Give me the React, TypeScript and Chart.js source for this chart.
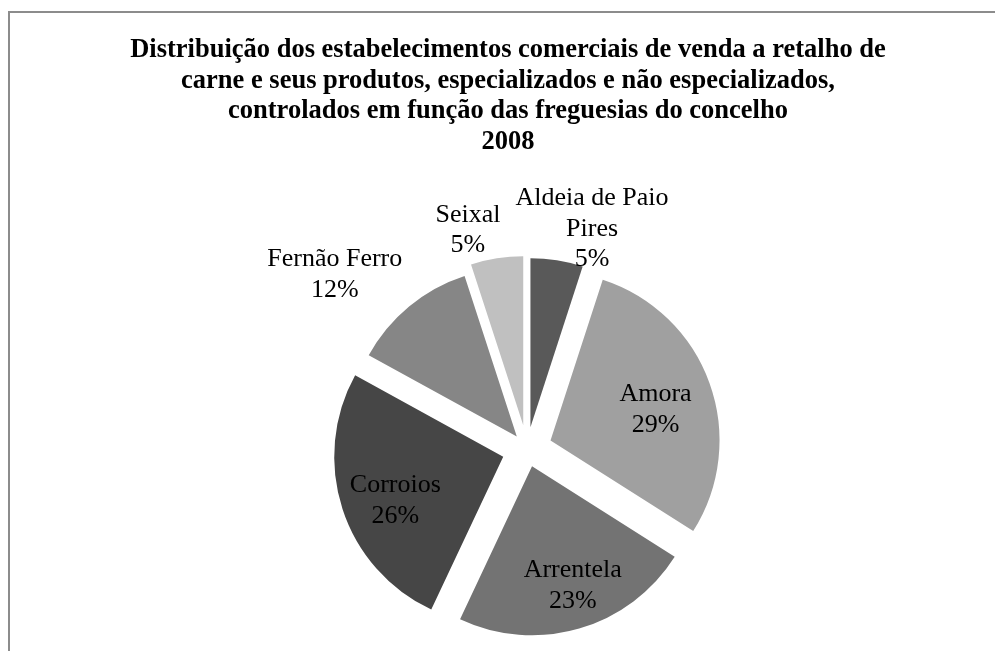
import React, { useEffect, useRef } from "react";
import { Chart, registerables } from "chart.js";

Chart.register(...registerables);

// ---------- data ----------
const TITLE_LINES = [
  "Distribuição dos estabelecimentos comerciais de venda a retalho de",
  "carne e seus produtos, especializados e não especializados,",
  "controlados em função das freguesias do concelho",
  "2008",
];
const CATEGORIES = ["Aldeia de Paio Pires", "Amora", "Arrentela", "Corroios", "Fernão Ferro", "Seixal"];
const VALUES = [5, 29, 23, 26, 12, 5];

// ---------- styling ----------
const LABEL_LINES = [["Aldeia de Paio", "Pires"], ["Amora"], ["Arrentela"], ["Corroios"], ["Fernão Ferro"], ["Seixal"]];
const COLORS = ["#595959", "#a0a0a0", "#737373", "#464646", "#868686", "#c0c0c0"];
const EXPLODE = [22, 25, 18, 25, 16, 24];
// label placement: [angle shift from bisector (deg), distance as fraction of radius] measured from slice tip
const LABEL_PLACE: [number, number][] = [
  [8.0, 1.247],
  [1.9, 0.653],
  [-3.1, 0.729],
  [-2.8, 0.683],
  [-8.2, 1.454],
  [-6.6, 1.217],
];
const SERIF = "'Liberation Serif', 'Times New Roman', serif";

const explodePlugin = {
  id: "explodeSlices",
  beforeDatasetDraw(chart: any, args: any) {
    const ctx = chart.ctx;
    args.meta.data.forEach((arc: any, i: number) => {
      const e = EXPLODE[i] || 0;
      const mid = (arc.startAngle + arc.endAngle) / 2;
      ctx.save();
      ctx.translate(Math.cos(mid) * e, Math.sin(mid) * e);
      arc.draw(ctx);
      ctx.restore();
    });
    return false;
  },
};

// title spans the whole canvas width while the pie's area is shifted right
const titleSpanPlugin = {
  id: "titleSpan",
  afterLayout(chart: any) {
    const t = chart.titleBlock;
    if (t) {
      t.left = 0;
      t.right = chart.width;
      t.width = chart.width;
    }
  },
};

const labelPlugin = {
  id: "sliceLabels",
  afterDatasetsDraw(chart: any) {
    const ctx = chart.ctx;
    const meta = chart.getDatasetMeta(0);
    const total = VALUES.reduce((a, b) => a + b, 0);
    ctx.save();
    ctx.font = `26px ${SERIF}`;
    ctx.fillStyle = "#000";
    ctx.textAlign = "center";
    ctx.textBaseline = "alphabetic";
    meta.data.forEach((arc: any, i: number) => {
      const e = EXPLODE[i] || 0;
      const mid = (arc.startAngle + arc.endAngle) / 2;
      const tipX = arc.x + Math.cos(mid) * e;
      const tipY = arc.y + Math.sin(mid) * e;
      const [shift, rf] = LABEL_PLACE[i];
      const a = mid + (shift * Math.PI) / 180;
      const cx = tipX + Math.cos(a) * rf * arc.outerRadius;
      const cy = tipY + Math.sin(a) * rf * arc.outerRadius;
      const lines = [...LABEL_LINES[i], Math.round((VALUES[i] / total) * 100) + "%"];
      const lh = 30.5;
      const y0 = cy - ((lines.length - 1) * lh) / 2 + 10;
      lines.forEach((t, k) => ctx.fillText(t, cx, y0 + k * lh));
    });
    ctx.restore();
  },
};

export default function App() {
  const ref = useRef<HTMLCanvasElement>(null);
  useEffect(() => {
    if (!ref.current) return;
    const chart = new Chart(ref.current, {
      type: "pie",
      data: {
        labels: CATEGORIES,
        datasets: [
          {
            data: VALUES,
            backgroundColor: COLORS,
            borderWidth: 0,
            radius: 169,
          } as any,
        ],
      },
      options: {
        responsive: false,
        animation: false,
        layout: { padding: { left: 38, right: 0, top: 0, bottom: 38.4 } },
        plugins: {
          legend: { display: false },
          tooltip: { enabled: false },
          title: {
            display: true,
            text: TITLE_LINES,
            color: "#000",
            font: { family: SERIF, size: 26.5, weight: "bold", lineHeight: 1.15 },
            padding: { top: 24.4, bottom: 8 },
          },
        },
      } as any,
      plugins: [explodePlugin, titleSpanPlugin, labelPlugin],
    });
    return () => chart.destroy();
  }, []);

  return (
    <div style={{ position: "fixed", left: 0, top: 0, width: 995, height: 651, overflow: "hidden", background: "#fff" }}>
      <div
        style={{
          position: "absolute",
          left: 8,
          top: 11,
          width: 1100,
          height: 800,
          borderLeft: "2px solid #8c8c8c",
          borderTop: "2px solid #8c8c8c",
          boxSizing: "border-box",
        }}
      />
      <div style={{ position: "absolute", left: 8, top: 11, width: 1000, height: 760 }}>
        <canvas ref={ref} width={1000} height={760} style={{ display: "block" }} />
      </div>
    </div>
  );
}
